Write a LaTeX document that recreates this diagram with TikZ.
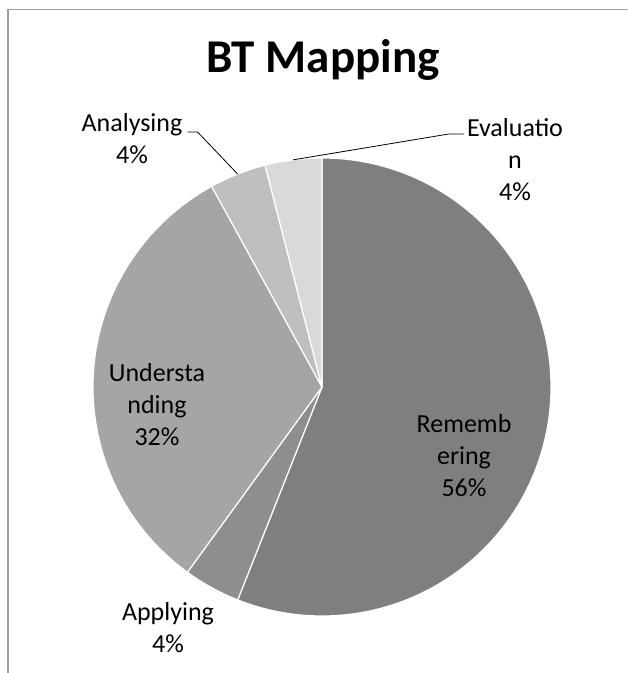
\documentclass[tikz,border=0pt]{standalone}
\usepackage{fontspec}
\setmainfont{Carlito}
\usetikzlibrary{calc}
\definecolor{remembering}{HTML}{7F7F7F}
\definecolor{applying}{HTML}{8E8E8E}
\definecolor{understanding}{HTML}{A5A5A5}
\definecolor{analysing}{HTML}{BFBFBF}
\definecolor{evaluation}{HTML}{D9D9D9}
\definecolor{framegray}{HTML}{A0A0A0}

\begin{document}
\begin{tikzpicture}[
    x=1pt,y=1pt,
    slice/.style={draw=white,line width=1.2pt,line join=round},
    titletext/.style={font=\fontsize{47}{56}\selectfont\bfseries,inner sep=0pt},
    slicelabel/.style={font=\fontsize{26}{32}\selectfont,align=center,inner sep=2pt},
    leader/.style={draw=black,line width=0.8pt}
    ]

    \useasboundingbox (0,0) rectangle (628,673);
    \draw[framegray,line width=1.5pt] (8,0) -- (8,663.5) -- (628,663.5);

    \coordinate (centre) at (322,286);

    \foreach \start/\stop/\shade in {90/-111.6/remembering,-111.6/-126/applying,-126/-241.2/understanding,-241.2/-255.6/analysing,-255.6/-270/evaluation}
      \filldraw[slice,fill=\shade] (centre) -- ++(\start:229) arc[start angle=\start,end angle=\stop,radius=229] -- cycle;

    \node (title) [titletext,anchor=base] at (323,600) {BT Mapping};

    \node (lblRemembering) [slicelabel] at (464,217) {Rememb\\ering\\56\%};
    \node (lblUnderstanding) [slicelabel] at (157,268) {Understa\\nding\\32\%};
    \node (lblApplying) [slicelabel] at (168,45) {Applying\\4\%};
    \node (lblAnalysing) [slicelabel] at (132,534) {Analysing\\4\%};
    \node (lblEvaluation) [slicelabel] at (515,513) {Evaluatio\\n\\4\%};

    \coordinate (ptAnalysing) at ($(centre)+(111.6:229)$);
    \coordinate (ptEvaluation) at ($(centre)+(97.2:229)$);

    \draw[leader] ([xshift=3pt,yshift=7pt]lblAnalysing.east) -- ++(10,0) -- (ptAnalysing);
    \draw[leader] ([xshift=-1pt,yshift=26pt]lblEvaluation.west) -- ++(-15,0) -- (ptEvaluation);

  \end{tikzpicture}
\end{document}
